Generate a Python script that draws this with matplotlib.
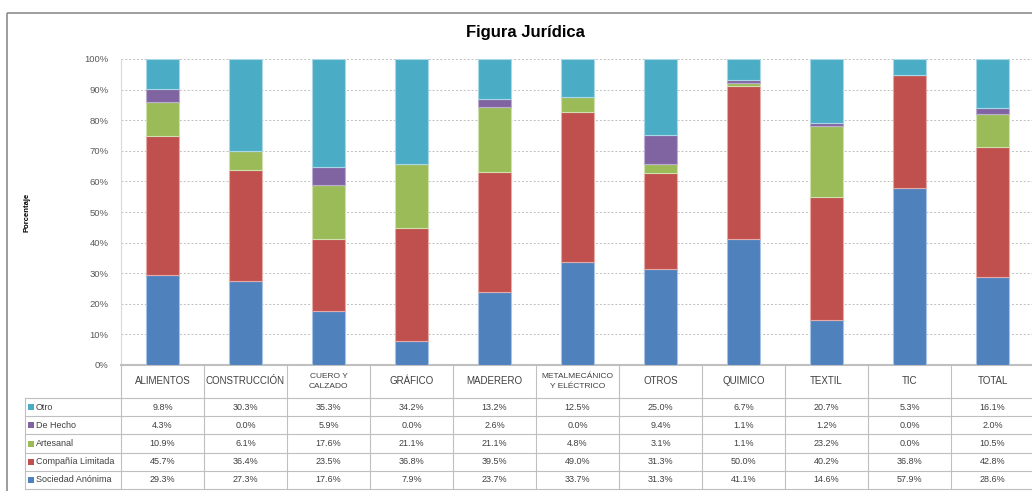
import matplotlib
matplotlib.use("Agg")
import matplotlib.pyplot as plt
import numpy as np
from matplotlib.patches import Rectangle

# datos (%)
categorias = ["ALIMENTOS", "CONSTRUCCIÓN", "CUERO Y\nCALZADO", "GRÁFICO", "MADERERO",
              "METALMECÁNICO\nY ELÉCTRICO", "OTROS", "QUIMICO", "TEXTIL", "TIC", "TOTAL"]
sociedad_anonima = [29.3, 27.3, 17.6, 7.9, 23.7, 33.7, 31.3, 41.1, 14.6, 57.9, 28.6]
compania_limitada = [45.7, 36.4, 23.5, 36.8, 39.5, 49.0, 31.3, 50.0, 40.2, 36.8, 42.8]
artesanal = [10.9, 6.1, 17.6, 21.1, 21.1, 4.8, 3.1, 1.1, 23.2, 0.0, 10.5]
de_hecho = [4.3, 0.0, 5.9, 0.0, 2.6, 0.0, 9.4, 1.1, 1.2, 0.0, 2.0]
otro = [9.8, 30.3, 35.3, 34.2, 13.2, 12.5, 25.0, 6.7, 20.7, 5.3, 16.1]
yticks = [0, 10, 20, 30, 40, 50, 60, 70, 80, 90, 100]

series = [
    ("Sociedad Anónima", sociedad_anonima, "#4F81BD", "#A7C2E3"),
    ("Compañía Limitada", compania_limitada, "#C0504D", "#E6AAA8"),
    ("Artesanal", artesanal, "#9BBB59", "#D0E0AE"),
    ("De Hecho", de_hecho, "#8064A2", "#BDADD2"),
    ("Otro", otro, "#4BACC6", "#A8D7E6"),
]

W, H = 1032, 491
fig = plt.figure(figsize=(W / 100, H / 100), dpi=100)
fig.patch.set_facecolor("white")
plt.rcParams["font.family"] = ["Liberation Sans", "DejaVu Sans"]

def fx(px):
    return px / W

def fy(py):
    return 1 - py / H

# capa de fondo (marco y tabla) en pixeles
lay = fig.add_axes([0, 0, 1, 1], zorder=0)
lay.set_xlim(0, W)
lay.set_ylim(H, 0)
lay.axis("off")
lay.add_patch(Rectangle((7, 13), W, H, fill=False, edgecolor="#8C8C8C", linewidth=1.2))

ax_left, ax_right, ax_top, ax_bot = 121, 1034, 59, 365
ax = fig.add_axes([fx(ax_left), fy(ax_bot), (ax_right - ax_left) / W, (ax_bot - ax_top) / H], zorder=2)
ax.patch.set_alpha(0)

x = np.arange(len(categorias))
bottom = np.zeros(len(categorias))
for nombre, vals, col, edge in series:
    vals = np.array(vals)
    ax.bar(x, vals, bottom=bottom, width=0.40, color=col, edgecolor=edge,
           linewidth=0.8, zorder=3, label=nombre)
    bottom += vals

ax.set_xlim(-0.5, len(categorias) - 0.5)
ax.set_ylim(0, 100)
ax.set_yticks(yticks)
ax.set_yticklabels([f"{t}%" for t in yticks], fontsize=6.8, color="#595959")
ax.set_xticks([])
ax.tick_params(axis="y", length=0, pad=9)
ax.grid(axis="y", color="#BFBFBF", linestyle=(0, (2, 2)), linewidth=0.7, zorder=0)
for s in ["top", "right"]:
    ax.spines[s].set_visible(False)
ax.spines["left"].set_color("#D9D9D9")
ax.spines["bottom"].set_color("#BFBFBF")
ax.spines["bottom"].set_linewidth(1.5)

fig.text(fx(525), fy(33), "Figura Jurídica", fontsize=12, fontweight="bold",
         ha="center", va="center", color="#000000")
fig.text(fx(27), fy(212), "Porcentaje", fontsize=5.5, fontweight="bold",
         rotation=90, ha="center", va="center", color="#000000")

# tabla de datos
col_w = (ax_right - ax_left) / len(categorias)
head_top, head_bot = 365, 398
row_h = 18.2
lab_left = 25
grid_c = "#BFBFBF"
filas = series[::-1]
n = len(filas)
tab_bot = head_bot + n * row_h

for i in range(len(categorias) + 1):
    xx = ax_left + i * col_w
    lay.plot([xx, xx], [head_top, tab_bot], color=grid_c, linewidth=0.8)
lay.plot([lab_left, lab_left], [head_bot, tab_bot], color=grid_c, linewidth=0.8)
for j in range(n + 1):
    yy = head_bot + j * row_h
    lay.plot([lab_left, W], [yy, yy], color=grid_c, linewidth=0.8)

for i, cat in enumerate(categorias):
    cx = ax_left + (i + 0.5) * col_w
    fs = 6.0 if "\n" in cat else 7.0
    lay.text(cx, (head_top + head_bot) / 2, cat, fontsize=fs, ha="center", va="center",
             color="#404040", linespacing=1.5)

for j, (nombre, vals, col, edge) in enumerate(filas):
    cy = head_bot + (j + 0.5) * row_h
    lay.add_patch(Rectangle((lab_left + 3, cy - 3), 6, 6, facecolor=col, edgecolor="none"))
    lay.text(lab_left + 11, cy, nombre, fontsize=6.5, ha="left", va="center", color="#404040")
    for i, v in enumerate(vals):
        cx = ax_left + (i + 0.5) * col_w
        lay.text(cx, cy, f"{v:.1f}%", fontsize=6.5, ha="center", va="center", color="#404040")

fig.savefig("out.png", dpi=100)
